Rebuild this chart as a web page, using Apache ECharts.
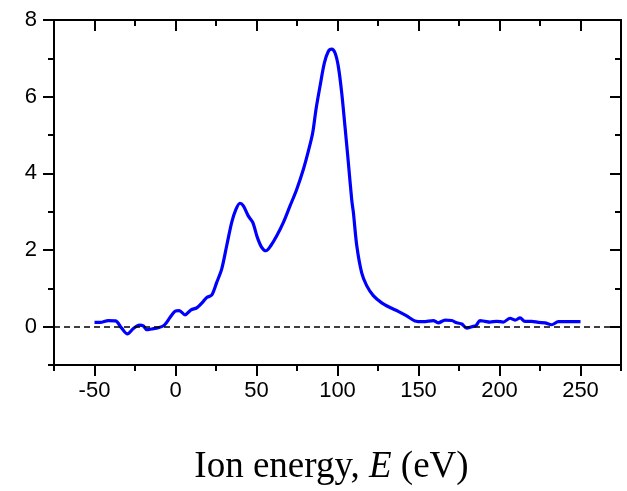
<!DOCTYPE html>
<html>
<head>
<meta charset="utf-8">
<script src="https://cdn.jsdelivr.net/npm/echarts@6/dist/echarts.min.js"></script>
<style>
html,body{margin:0;padding:0;background:#fff;}
#chart{width:627px;height:491px;}
</style>
</head>
<body>
<div id="chart"></div>
<script>
// Ion energy (eV)
var energy = [-50, -46.5, -41.5, -37, -33.2, -29.7, -26, -22.3, -19.9, -17.8, -14.7, -10.6, -6.9, -3.4, -0.3, 2.3, 5.9, 9.6, 13.1, 17.2, 19.3, 22.3, 25.4, 28.5, 31.6, 34.7, 37.3, 39.8, 41.9, 44.9, 47.7, 50.5, 53.2, 55.9, 58.8, 62.5, 66.6, 70.7, 74.8, 78.9, 82, 84.7, 86.7, 89.2, 91.9, 94.3, 96.4, 98.5, 100.5, 102.6, 104.6, 106.7, 108.8, 109.8, 111.9, 114.9, 118, 122.1, 127.3, 132.4, 137.5, 142.7, 147.8, 153, 159.1, 162.2, 166.4, 170.5, 173.6, 176.7, 179.8, 182.9, 185.5, 188, 191, 194.1, 198.3, 202.3, 206.5, 209.6, 212.7, 215.7, 219.9, 224, 228.1, 232.2, 236.3, 241.5, 250];
// Signal
var signal = [0.11, 0.11, 0.16, 0.15, -0.04, -0.19, -0.05, 0.04, 0.02, -0.08, -0.06, -0.03, 0.04, 0.24, 0.40, 0.42, 0.31, 0.44, 0.49, 0.66, 0.76, 0.82, 1.15, 1.50, 2.11, 2.72, 3.06, 3.22, 3.15, 2.89, 2.72, 2.33, 2.07, 1.98, 2.11, 2.37, 2.72, 3.15, 3.58, 4.10, 4.58, 5.06, 5.66, 6.27, 6.88, 7.18, 7.24, 7.14, 6.79, 6.10, 5.23, 4.28, 3.30, 2.98, 2.11, 1.41, 1.07, 0.81, 0.62, 0.50, 0.40, 0.28, 0.15, 0.13, 0.16, 0.10, 0.17, 0.16, 0.10, 0.07, -0.04, 0.0, 0.03, 0.16, 0.14, 0.12, 0.14, 0.12, 0.22, 0.17, 0.23, 0.14, 0.14, 0.11, 0.10, 0.05, 0.13, 0.13, 0.13];
var xMajorTicks = [-50, 0, 50, 100, 150, 200, 250];
var xMinorTicks = [-75, -25, 25, 75, 125, 175, 225, 275];
var yMajorTicks = [0, 2, 4, 6, 8];
var yMinorTicks = [-1, 1, 3, 5, 7];
var xRange = [-75, 275];
var yRange = [-1, 8];
var baselineValue = 0;

var data = energy.map(function (e, i) { return [e, signal[i]]; });

var lineCol = '#000';
function axisBase(kind, pos, ticks, len, inside, showLine, labels) {
  var a = {
    type: 'value', position: pos,
    min: kind === 'x' ? xRange[0] : yRange[0],
    max: kind === 'x' ? xRange[1] : yRange[1],
    axisLine: { show: showLine, onZero: false, lineStyle: { color: lineCol, width: 2 } },
    axisTick: { show: true, inside: inside, length: len, customValues: ticks, lineStyle: { color: lineCol, width: 2 } },
    axisLabel: labels ? {
      show: true, customValues: ticks, fontFamily: 'Liberation Sans', fontSize: 22, color: '#000',
      margin: kind === 'x' ? 15 : 17
    } : { show: false },
    splitLine: { show: false }
  };
  return a;
}

var xAxes = [
  axisBase('x', 'bottom', xMajorTicks, 11, false, true, true),
  axisBase('x', 'bottom', xMinorTicks, 6, false, false, false),
  axisBase('x', 'top', xMajorTicks, 11, true, true, false),
  axisBase('x', 'top', xMinorTicks, 6, true, false, false)
];
xAxes[0].name = '{a|Ion energy, }{b|E}{a| (eV)}';
xAxes[0].nameLocation = 'middle';
xAxes[0].nameGap = 84;
xAxes[0].nameTextStyle = {
  padding: [0, 12, 0, 0],
  rich: {
    a: { fontFamily: 'Liberation Serif', fontSize: 37, color: '#000' },
    b: { fontFamily: 'Liberation Serif', fontSize: 37, fontStyle: 'italic', color: '#000' }
  }
};
var yAxes = [
  axisBase('y', 'left', yMajorTicks, 11, false, true, true),
  axisBase('y', 'left', yMinorTicks, 6, false, false, false),
  axisBase('y', 'right', yMajorTicks, 11, true, true, false),
  axisBase('y', 'right', yMinorTicks, 6, true, false, false)
];

var chart = echarts.init(document.getElementById('chart'), null, { renderer: 'canvas' });
chart.setOption({
  animation: false,
  backgroundColor: '#fff',
  grid: { left: 54, right: 6, top: 20, bottom: 125, containLabel: false },
  xAxis: xAxes,
  yAxis: yAxes,
  series: [{
    type: 'line',
    data: data,
    xAxisIndex: 0, yAxisIndex: 0,
    showSymbol: false,
    smooth: 0.3,
    lineStyle: { color: '#0000FF', width: 3.2 },
    z: 3,
    markLine: {
      silent: true, symbol: 'none', label: { show: false },
      lineStyle: { color: '#000', type: [6, 4], width: 1.5 },
      data: [{ yAxis: baselineValue }]
    }
  }]
});
</script>
</body>
</html>
